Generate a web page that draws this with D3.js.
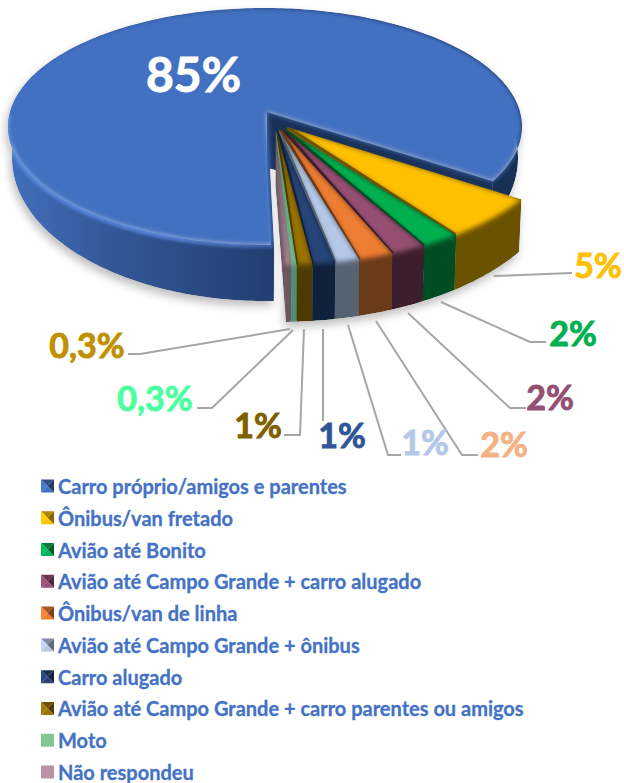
<!DOCTYPE html>
<html><head><meta charset="utf-8">
<script src="https://cdn.jsdelivr.net/npm/d3@7"></script>
<style>html,body{margin:0;padding:0;background:#fff}svg{display:block}text{font-family:Lato,"Open Sans",sans-serif;font-weight:700}</style>
</head><body><svg id="c" width="624" height="783"></svg>
<script>
const categories=["Carro próprio/amigos e parentes","Ônibus/van fretado","Avião até Bonito","Avião até Campo Grande + carro alugado","Ônibus/van de linha","Avião até Campo Grande + ônibus","Carro alugado","Avião até Campo Grande + carro parentes ou amigos","Moto","Não respondeu"];
const values=[85,5.6,2.2,2,2,1.4,1.3,0.9,0.3,0.3];
const valueLabels=["85%","5%","2%","2%","2%","1%","1%","1%","0,3%","0,3%"];
const topColors=["#4271c2","#ffc000","#00b050","#954f72","#ed7d31","#b4c7e7","#264478","#997300","#84c595","#b893a5"];
const wallColors=["#264a85","#6b5200","#004d23","#3d1e2e","#6b3a17","#556270","#11213c","#4d3a00","#4f8f6f","#6a5560"];
const labelColors=["#ffffff","#ffc000","#00b050","#954f72","#f4b183","#b4c7e7","#2f5597","#7f6000","#4dffa0","#bf9000"];
const flatSwatch=[false,false,false,false,false,false,false,false,true,true];

const svg=d3.select("#c"), defs=svg.append("defs");
const depth=56, toRad=Math.PI/180;
const pie=d3.pie().sort(null).startAngle(-181.6*toRad).endAngle(178.4*toRad);
const arcs=pie(values);
const mainGeom={cx:265,cy:126.5,rx:257,ry:118.5,apex:[267,112],base:{cx:265,cy:158,rx:253,ry:143}};
const restGeom={cx:278,cy:128,rx:285,ry:137};
const hub={x:275,y:122,e:16,k:.48};
const line=d3.line();
const mainParam=d3.scaleLinear().domain([arcs[0].startAngle,arcs[0].endAngle]).range([-182*toRad,117.5*toRad]);

const blurF=(id,sd)=>defs.append("filter").attr("id",id).attr("x","-10%").attr("y","-10%").attr("width","120%").attr("height","120%").append("feGaussianBlur").attr("stdDeviation",sd);
blurF("soft",2.6);blurF("glow",1.8);blurF("shadow",5);
const wallGrad=defs.append("linearGradient").attr("id","mainWall").attr("gradientUnits","userSpaceOnUse")
  .attr("x1",8).attr("x2",522).attr("y1",0).attr("y2",0);
[[0,"#4270bc"],[.18,"#35599c"],[.5,"#233f72"],[.8,"#182f56"],[1,"#182f56"]].forEach(s=>wallGrad.append("stop").attr("offset",s[0]).attr("stop-color",s[1]));

function geometry(a,i){
  const g=i===0?mainGeom:restGeom, mid=(a.startAngle+a.endAngle)/2;
  const apex=i===0?g.apex:[hub.x+hub.e*Math.sin(mid),hub.y-hub.e*hub.k*Math.cos(mid)];
  const n=Math.max(4,Math.ceil((a.endAngle-a.startAngle)/toRad));
  const rim=[],base=[];
  d3.range(n+1).forEach(j=>{
    let t=a.startAngle+(a.endAngle-a.startAngle)*j/n;
    if(i===0) t=mainParam(t);
    const p=[g.cx+g.rx*Math.sin(t),g.cy-g.ry*Math.cos(t)];
    rim.push(p);
    base.push(i===0?[g.base.cx+g.base.rx*Math.sin(t),g.base.cy-g.base.ry*Math.cos(t)]
                   :[g.cx+(p[0]-g.cx)*.99,p[1]+48+9*Math.abs(Math.cos(t))]);
  });
  return {apex,rim,base};
}
const down=p=>[p[0],p[1]+depth];
const geoms=arcs.map(geometry);
const topPath=g=>line([g.apex,...g.rim])+"Z";
const rimWall=g=>line([...g.rim,...g.base.slice().reverse()])+"Z";
const cutWall=(g,p,q)=>line([g.apex,p,q,down(g.apex)])+"Z";

// soft ground shadow
const sh=svg.append("g").attr("filter","url(#shadow)").attr("transform","translate(-2,5)").attr("opacity",.26);
geoms.forEach(g=>{sh.append("path").attr("d",rimWall(g));sh.append("path").attr("d",topPath(g));});

const pieG=svg.append("g");
geoms.forEach((g,i)=>{
  const id="clip"+i, first=g.rim[0], last=g.rim[g.rim.length-1], bf=g.base[0], bl=g.base[g.base.length-1];
  const cp=defs.append("clipPath").attr("id",id);
  [topPath(g),rimWall(g),cutWall(g,first,bf),cutWall(g,last,bl)].forEach(d=>cp.append("path").attr("d",d));
  const s=pieG.append("g").attr("clip-path",`url(#${id})`);
  const wall=i===0?"url(#mainWall)":wallColors[i];
  s.append("path").attr("d",cutWall(g,first,bf)).attr("fill",i===0?"#1a3158":wallColors[i]);
  s.append("path").attr("d",cutWall(g,last,bl)).attr("fill",i===0?"#1a3158":wallColors[i]);
  s.append("path").attr("d",rimWall(g)).attr("fill",wall);
  s.append("path").attr("d",topPath(g)).attr("fill",topColors[i]).attr("filter","url(#soft)");
  if(i===0){
    const front=g.rim.slice(0,100).map(p=>[p[0],p[1]+1]);
    const hl=defs.append("linearGradient").attr("id","hl").attr("gradientUnits","userSpaceOnUse").attr("x1",8).attr("x2",274).attr("y1",0).attr("y2",0);
    [[0,.75],[.6,.75],[1,.3]].forEach(q=>hl.append("stop").attr("offset",q[0]).attr("stop-color","#5f92ea").attr("stop-opacity",q[1]));
    s.append("path").attr("d",line(front)).attr("fill","none").attr("stroke","url(#hl)").attr("stroke-width",4).attr("filter","url(#glow)");
  }
  if(i>0&&i<8) s.append("path").attr("d",line([g.apex,last])).attr("stroke",wallColors[i]).attr("stroke-width",3).attr("fill","none");
});

// leader lines
const leaders=[
 [[494,276],[572,273]],
 [[441,302],[530,342],[546,342]],
 [[408,313],[510,408],[526,408]],
 [[376,321],[462,455],[478,455]],
 [[348,325],[388,455],[401,455]],
 [[323,329],[323,421]],
 [[304,329],[300,435],[284,435]],
 [[293,330],[212,408],[197,408]],
 [[290,329],[140,354],[128,354]]];
svg.append("g").selectAll("path").data(leaders).join("path")
  .attr("d",d=>line(d)).attr("fill","none").attr("stroke","#a6a6a6").attr("stroke-width",2);

// data labels
const labelPos=[[193.5,73,48],[598,264,34],[573,332,34],[550,396,34],[504,443,34],[425,441,34],[342,434,34],[258,424,34],[155,397,34],[87,344,34]];
svg.append("g").selectAll("text").data(valueLabels).join("text")
  .text(d=>d).attr("text-anchor","middle").attr("dominant-baseline","central")
  .attr("x",(d,i)=>labelPos[i][0]).attr("y",(d,i)=>labelPos[i][1]).attr("font-size",(d,i)=>labelPos[i][2])
  .attr("fill",(d,i)=>labelColors[i]).attr("stroke",(d,i)=>labelColors[i]).attr("stroke-width",.9);

// legend
const legendY=d3.scalePoint().domain(categories).range([486,772]);
const lg=svg.append("g").selectAll("g").data(categories).join("g")
  .attr("transform",d=>`translate(41,${legendY(d)-6.5})`);
lg.append("text").text(d=>d).attr("x",17).attr("y",6.5).attr("dominant-baseline","central")
  .attr("font-size",20).attr("fill","#4472c4").attr("stroke","#4472c4").attr("stroke-width",.3);
const sw=13,c=sw/2;
lg.each(function(d,i){
  const g=d3.select(this);
  if(flatSwatch[i]){g.append("rect").attr("width",sw).attr("height",sw).attr("fill",topColors[i]);return;}
  const base=d3.color(topColors[i]);
  const tris=[[[[0,0],[sw,0],[c,c]],base.darker(1)],[[[0,0],[0,sw],[c,c]],base.brighter(.2)],[[[sw,0],[sw,sw],[c,c]],base.darker(1.8)],[[[0,sw],[sw,sw],[c,c]],base]];
  tris.forEach(t=>g.append("path").attr("d",line(t[0])+"Z").attr("fill",t[1]));
});
</script></body></html>
